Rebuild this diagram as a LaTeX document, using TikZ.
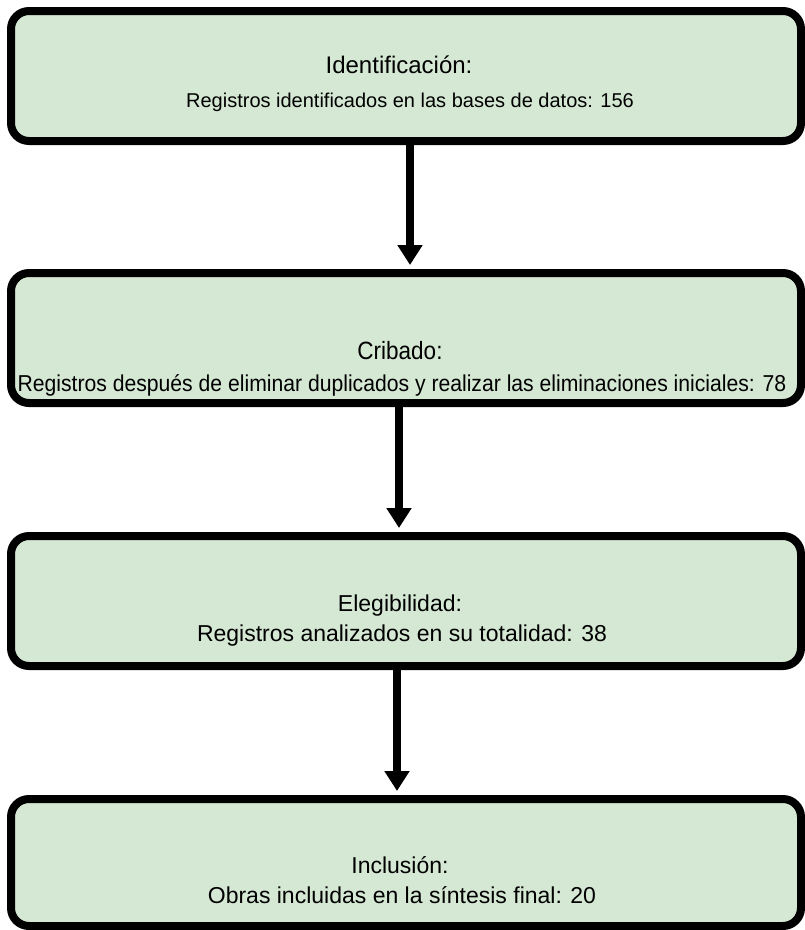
\documentclass[tikz,border=0pt]{standalone}
\usepackage{fontspec}
\setmainfont{Liberation Sans}
\usetikzlibrary{arrows.meta, positioning}
\definecolor{boxgreen}{HTML}{D5E8D4}

\begin{document}
\begin{tikzpicture}[x = 1pt, y = -1pt,
    stage/.style = { draw, fill = boxgreen, line width = 8pt, rounded corners = 18pt,
                     minimum width = 790pt, minimum height = 130pt },
    caption/.style = { anchor = base, inner sep = 0pt },
    flow/.style = { line width = 8pt, -{Triangle[length = 20pt, width = 24pt]}, shorten > = 4pt }]
  \useasboundingbox (0,0) rectangle (805,930);

  % boxes
  \node [stage] (ident) at (406,76) {};
  \node [stage] (crib) at (406,338) {};
  \node [stage] (eleg) at (406,601) {};
  \node [stage, minimum height = 127pt] (incl) at (406,862.5) {};

  % texts
  \node [caption, font = \fontsize{24}{28}\selectfont] (identA) at (399,73) {Identificación:};
  \node [caption, font = \fontsize{20}{24}\selectfont] (identB) at (410,107) {Registros identificados en las bases de datos: 156};
  \node [caption, font = \fontsize{25}{29}\selectfont] (cribA) at (400,359) {\scalebox{0.9}[1]{Cribado:}};
  \node [caption, font = \fontsize{23}{27}\selectfont] (cribB) at (402,391) {\scalebox{0.92}[1]{Registros después de eliminar duplicados y realizar las eliminaciones iniciales: 78}};
  \node [caption, font = \fontsize{23}{27}\selectfont] (elegA) at (400,611) {Elegibilidad:};
  \node [caption, font = \fontsize{23}{27}\selectfont] (elegB) at (402,641) {Registros analizados en su totalidad: 38};
  \node [caption, font = \fontsize{23}{27}\selectfont] (inclA) at (400,873) {Inclusión:};
  \node [caption, font = \fontsize{23}{27}\selectfont] (inclB) at (402,903) {Obras incluidas en la síntesis final: 20};

  % arrows
  \draw [flow] (ident.south -| 410,0) -- (crib.north -| 410,0);
  \draw [flow] (crib.south -| 399,0) -- (eleg.north -| 399,0);
  \draw [flow] (eleg.south -| 397,0) -- (incl.north -| 397,0);
\end{tikzpicture}
\end{document}
